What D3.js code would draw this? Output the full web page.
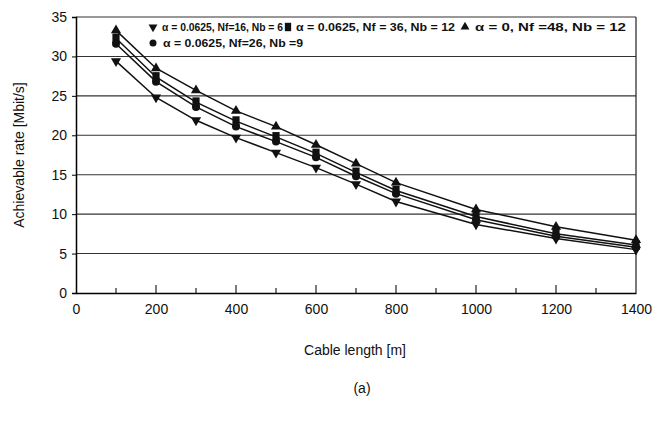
<!DOCTYPE html>
<html lang="en">
<head>
<meta charset="utf-8">
<title>Achievable rate vs cable length</title>
<script src="https://d3js.org/d3.v7.min.js"></script>
<style>
  body { margin: 0; background: #fff; }
  text { font-family: "Liberation Sans", Arial, sans-serif; fill: #111; }
</style>
</head>
<body>
<script>
// data
const lengths = [100, 200, 300, 400, 500, 600, 700, 800, 1000, 1200, 1400];
const rateNf16 = [29.4, 24.8, 21.9, 19.7, 17.8, 15.9, 13.8, 11.6, 8.7, 6.9, 5.5];
const rateNf36 = [32.3, 27.4, 24.2, 21.8, 19.8, 17.7, 15.3, 13.0, 9.7, 7.5, 6.1];
const rateNf48 = [33.3, 28.5, 25.7, 23.1, 21.1, 18.8, 16.4, 14.0, 10.6, 8.4, 6.7];
const rateNf26 = [31.6, 26.8, 23.6, 21.1, 19.2, 17.2, 14.8, 12.6, 9.3, 7.2, 5.8];
const xTicks = [0, 200, 400, 600, 800, 1000, 1200, 1400];
const yTicks = [0, 5, 10, 15, 20, 25, 30, 35];

const series = [
  {name: "\u03b1 = 0.0625, Nf=16, Nb = 6", values: rateNf16, sym: "down"},
  {name: "\u03b1 = 0.0625, Nf = 36, Nb = 12", values: rateNf36, sym: "square"},
  {name: "\u03b1 = 0,   Nf =48, Nb = 12", values: rateNf48, sym: "up"},
  {name: "\u03b1 = 0.0625, Nf=26, Nb =9", values: rateNf26, sym: "circle"}
];

const w = 664, h = 421;
const margin = {top: 17, right: 28, bottom: 128, left: 76};

const svg = d3.select("body").append("svg")
  .attr("width", w).attr("height", h);

const x = d3.scaleLinear().domain([0, 1400]).range([margin.left, w - margin.right]);
const y = d3.scaleLinear().domain([0, 35]).range([h - margin.bottom, margin.top]);

// horizontal grid
svg.append("g")
  .selectAll("line")
  .data(yTicks.filter(d => d > 0))
  .enter().append("line")
  .attr("x1", x(0)).attr("x2", x(1400))
  .attr("y1", d => y(d)).attr("y2", d => y(d))
  .attr("stroke", "#333").attr("stroke-width", 1.1);

// right frame
svg.append("line").attr("x1", x(1400)).attr("x2", x(1400))
  .attr("y1", y(0)).attr("y2", y(35)).attr("stroke", "#222").attr("stroke-width", 1.2);

// y axis
const yAxis = svg.append("g")
  .attr("transform", `translate(${x(0)},0)`)
  .call(d3.axisLeft(y).tickValues(yTicks).tickSize(4).tickPadding(5));
yAxis.select(".domain").attr("stroke-width", 1.5);
yAxis.selectAll("text").style("font-size", "14px");

// x axis, ticks pointing up, minor ticks every 100
const xAxis = svg.append("g")
  .attr("transform", `translate(0,${y(0)})`)
  .call(d3.axisBottom(x).tickValues(xTicks).tickFormat(d3.format("d")).tickSize(0).tickPadding(11));
xAxis.select(".domain").attr("stroke-width", 1.5);
xAxis.selectAll("text").style("font-size", "14px");

svg.append("g")
  .selectAll("line")
  .data(d3.range(100, 1400, 100))
  .enter().append("line")
  .attr("x1", d => x(d)).attr("x2", d => x(d))
  .attr("y1", y(0)).attr("y2", d => y(0) - (d % 200 === 0 ? 8 : 5))
  .attr("stroke", "#222").attr("stroke-width", 1.2);

// axis titles
svg.append("text")
  .attr("transform", `translate(24,${(y(0) + y(35)) / 2}) rotate(-90)`)
  .attr("text-anchor", "middle")
  .style("font-size", "14px")
  .text("Achievable rate [Mbit/s]");

svg.append("text")
  .attr("x", 355).attr("y", 355)
  .attr("text-anchor", "middle")
  .style("font-size", "14px")
  .text("Cable length [m]");

svg.append("text")
  .attr("x", 362).attr("y", 393)
  .attr("text-anchor", "middle")
  .style("font-size", "14px")
  .text("(a)");

// marker shapes
function marker(sel, sym, size) {
  if (sym === "circle") {
    sel.append("circle").attr("r", size * 0.5);
  } else if (sym === "square") {
    sel.append("rect").attr("x", -size * 0.45).attr("y", -size * 0.6)
      .attr("width", size * 0.9).attr("height", size * 1.2);
  } else {
    const t = d3.symbol().type(d3.symbolTriangle).size(size * size * 0.7);
    sel.append("path").attr("d", t)
      .attr("transform", sym === "down" ? "rotate(180)" : null);
  }
}

const line = d3.line()
  .x((d, i) => x(lengths[i]))
  .y(d => y(d));

series.forEach(s => {
  svg.append("path")
    .datum(s.values)
    .attr("fill", "none")
    .attr("stroke", "#111")
    .attr("stroke-width", 1.5)
    .attr("d", line);

  svg.append("g")
    .selectAll("g")
    .data(s.values)
    .enter().append("g")
    .attr("transform", (d, i) => `translate(${x(lengths[i])},${y(d)})`)
    .attr("fill", "#111")
    .each(function() { marker(d3.select(this), s.sym, 8); });
});

// legend
const legendPos = [
  {mx: 153, tx: 162, ty: 31, len: 121},
  {mx: 288, tx: 296, ty: 31, len: 159},
  {mx: 465, tx: 475, ty: 31, len: 151},
  {mx: 153, tx: 163, ty: 47, len: 140}
];
series.forEach((s, i) => {
  const p = legendPos[i];
  const g = svg.append("g").attr("fill", "#111");
  const m = g.append("g").attr("transform", `translate(${p.mx},${p.ty - 4})`);
  marker(m, s.sym, 7);
  g.append("text")
    .attr("x", p.tx).attr("y", p.ty)
    .attr("textLength", p.len)
    .attr("lengthAdjust", "spacingAndGlyphs")
    .style("font-size", "10.5px")
    .style("font-weight", "bold")
    .text(s.name);
});
</script>
</body>
</html>
